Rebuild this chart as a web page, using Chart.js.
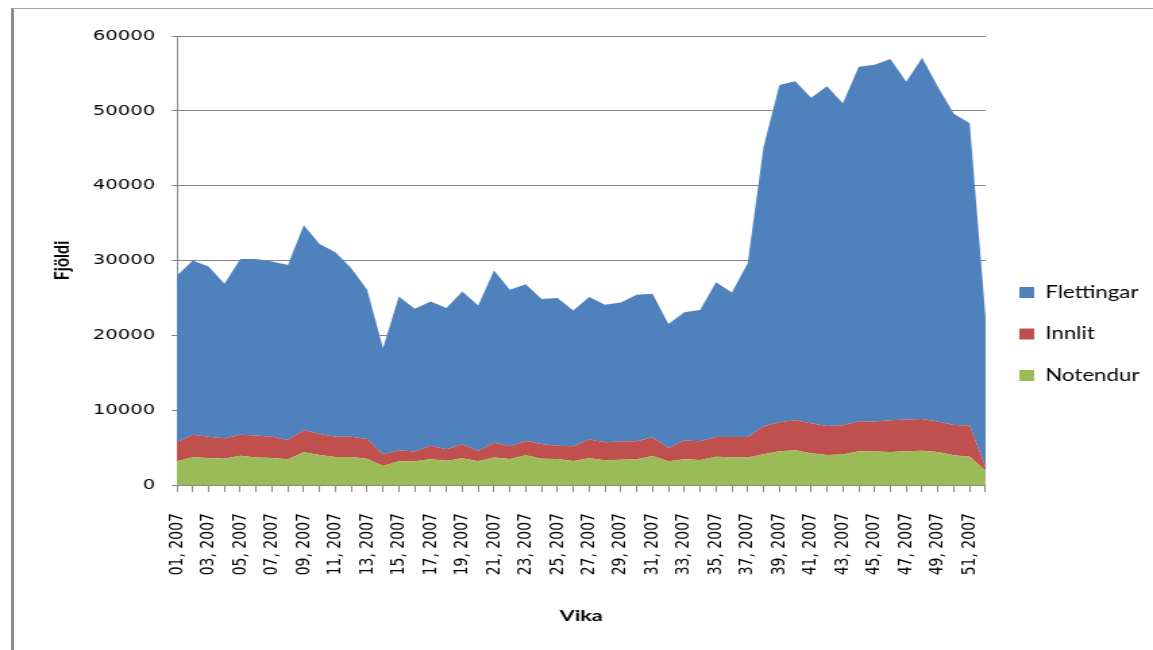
<!DOCTYPE html>
<html>
<head>
<meta charset="utf-8">
<script src="https://cdn.jsdelivr.net/npm/chart.js@4/dist/chart.umd.min.js"></script>
<style>
  html, body { margin: 0; padding: 0; background: #fff; }
  #wrap { position: relative; width: 1153px; height: 650px; overflow: hidden; background: #fff; }
  #frame { position: absolute; left: 11px; top: 8px; width: 1150px; height: 650px;
           border-left: 3px solid #8c8c8c; border-top: 1px solid #a6a6a6; box-sizing: border-box; }
  #c { position: absolute; left: 0; top: 0; width: 1153px; height: 650px; }
</style>
</head>
<body>
<div id="wrap">
  <canvas id="c" width="854" height="650" style="width:1153px;height:650px"></canvas>
  <div id="frame"></div>
</div>
<script>
const weeks = ['01, 2007','02, 2007','03, 2007','04, 2007','05, 2007','06, 2007','07, 2007','08, 2007','09, 2007','10, 2007',
  '11, 2007','12, 2007','13, 2007','14, 2007','15, 2007','16, 2007','17, 2007','18, 2007','19, 2007','20, 2007',
  '21, 2007','22, 2007','23, 2007','24, 2007','25, 2007','26, 2007','27, 2007','28, 2007','29, 2007','30, 2007',
  '31, 2007','32, 2007','33, 2007','34, 2007','35, 2007','36, 2007','37, 2007','38, 2007','39, 2007','40, 2007',
  '41, 2007','42, 2007','43, 2007','44, 2007','45, 2007','46, 2007','47, 2007','48, 2007','49, 2007','50, 2007',
  '51, 2007','52, 2007'];

const notendur = [3170,3700,3610,3520,3920,3660,3610,3430,4370,4010,
  3750,3750,3520,2540,3170,3170,3430,3250,3570,3170,
  3660,3480,3970,3520,3480,3210,3570,3300,3390,3430,
  3880,3170,3430,3340,3790,3700,3660,4100,4500,4640,
  4240,4010,4060,4500,4460,4410,4500,4590,4410,3970,
  3790,1900];

const innlit = [2530,3030,2850,2720,2810,2940,2850,2590,2990,2810,
  2710,2710,2630,1520,1470,1290,1830,1520,1870,1380,
  2000,1690,1910,1960,1780,1960,2520,2410,2410,2410,
  2500,1780,2500,2500,2630,2720,2760,3750,3880,4010,
  4010,3880,3920,4020,4010,4240,4240,4240,4060,4050,
  4150,500];

const flettingar = [22250,23270,22740,20660,23470,23600,23410,23380,27340,25380,
  24640,22520,19950,14240,20560,19100,19270,18870,20430,19450,
  23010,20920,20960,19360,19720,18160,19020,18380,18600,19580,
  19180,16550,17170,17560,20680,19310,23220,37350,45070,45290,
  43510,45380,43020,47380,47700,48280,45160,48270,44730,41580,
  40390,20000];

const yTicks = [0, 10000, 20000, 30000, 40000, 50000, 60000];

const gridGrey = '#878787';

new Chart(document.getElementById('c'), {
  type: 'line',
  data: {
    labels: weeks,
    datasets: [
      { label: 'Notendur', data: notendur, backgroundColor: '#9BBB59', borderColor: '#9BBB59', fill: 'origin' },
      { label: 'Innlit', data: innlit, backgroundColor: '#C0504D', borderColor: '#C0504D', fill: '-1' },
      { label: 'Flettingar', data: flettingar, backgroundColor: '#4F81BD', borderColor: '#4F81BD', fill: '-1' }
    ]
  },
  options: {
    responsive: false,
    animation: false,
    events: [],
    layout: { padding: { left: 10, top: 36, right: 0, bottom: 18 } },
    elements: {
      line: { borderWidth: 0, tension: 0 },
      point: { radius: 0, hoverRadius: 0 }
    },
    plugins: {
      tooltip: { enabled: false },
      legend: {
        position: 'right',
        reverse: true,
        labels: {
          boxWidth: 11, boxHeight: 11, padding: 25, color: '#000',
          font: { family: 'Lato', size: 16.5 }
        }
      }
    },
    scales: {
      x: {
        type: 'category',
        offset: false,
        afterFit: (s) => { s.height = 147; },
        grid: { drawOnChartArea: false, drawTicks: true, tickLength: 7, color: gridGrey },
        border: { display: true, color: gridGrey },
        ticks: {
          autoSkip: false, maxRotation: 90, minRotation: 90, padding: 21, color: '#000',
          font: { family: 'DejaVu Sans', size: 14 },
          callback: function (v, i) { return i % 2 === 0 ? this.getLabelForValue(v) : ''; }
        },
        title: { display: true, text: 'Vika', color: '#000', font: { family: 'Lato', size: 16, weight: 'bold' },
                 padding: { top: 4, bottom: 7 } }
      },
      y: {
        stacked: true,
        min: 0, max: 60000,
        afterFit: (s) => { s.width = 121; },
        afterBuildTicks: (s) => { s.ticks = yTicks.map(v => ({ value: v })); },
        grid: { color: gridGrey, tickLength: 4, drawTicks: true },
        border: { display: true, color: gridGrey },
        ticks: { padding: 12, color: '#000', font: { family: 'DejaVu Sans', size: 14.5 },
                 callback: (v) => String(v) },
        title: { display: true, text: 'Fjöldi', color: '#000', font: { family: 'Lato', size: 16, weight: 'bold' },
                 padding: { top: 26, bottom: 4 } }
      }
    }
  }
});
</script>
</body>
</html>
